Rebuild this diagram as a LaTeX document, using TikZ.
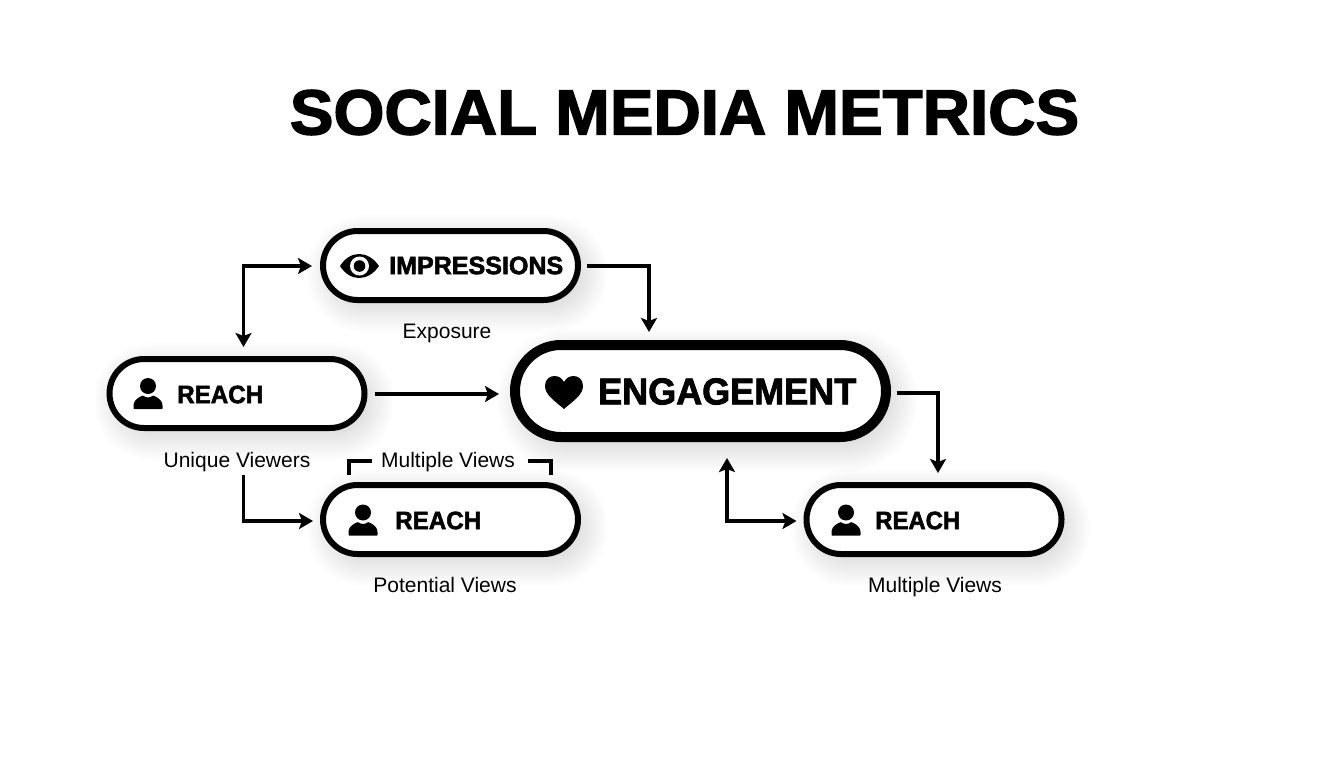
\documentclass[tikz,border=0pt]{standalone}
\usepackage{fontspec}
\usepackage{graphicx}
\usetikzlibrary{arrows.meta,calc}
\setmainfont{Liberation Sans}
\newfontfamily\heavyfont[FakeBold=2.2]{Liberation Sans Bold}
\newcommand{\heavy}[3]{\resizebox{#1pt}{#2pt}{\heavyfont #3}}
\newcommand{\softpill}[5]{%
  \foreach \g in {22,20,...,-10}{%
    \fill[black,opacity=0.0075,rounded corners=#5pt+\g pt]
      (#1-\g,#2-\g) rectangle (#3+\g,#4+\g);}}
\tikzset{
  x=1pt,y=-1pt,
  pill/.style={draw=black,fill=white,line width=6pt,minimum width=255pt,minimum height=69pt,
    rounded corners=34.5pt,outer sep=0pt,inner sep=0pt},
  bigpill/.style={pill,line width=10pt,minimum width=371pt,minimum height=92pt,rounded corners=46pt},
  caption/.style={font=\fontsize{21}{24}\selectfont,text=black,inner sep=0pt,anchor=base},
  tag/.style={inner sep=0pt,anchor=west,text=black},
  link/.style={draw=black,line width=3.4pt,-{Stealth[length=14pt,width=16pt,inset=3pt]}},
  both/.style={draw=black,line width=3.4pt,{Stealth[length=14pt,width=16pt,inset=3pt]}-{Stealth[length=14pt,width=16pt,inset=3pt]}},
  brace/.style={draw=black,line width=3.4pt},
  personicon/.pic={
    \fill[black] (0,0) circle (8);
    \fill[black,rounded corners=0.6pt] (-14.5,23) -- (-14.5,19) .. controls (-14,14) and (-9,11) .. (-5,9.5)
      .. controls (-2,12) and (2,12) .. (5,9.5) .. controls (9,11) and (14,14) .. (14.5,19) -- (14.5,23) -- cycle;
  }
}
\begin{document}
\begin{tikzpicture}
\useasboundingbox (0,0) rectangle (1344,768);
\fill[white] (0,0) rectangle (1344,768);

\node[tag,anchor=center] (title) at (684.5,112.5) {\heavy{789}{44.5}{SOCIAL MEDIA METRICS}};

% soft shadows
\softpill{329}{237}{586}{310}{36}
\softpill{116}{365}{372}{438}{36}
\softpill{329}{491}{586}{564}{36}
\softpill{813}{491}{1069}{564}{36}
\softpill{519}{350}{896}{450}{50}

% pills
\node[pill] (imp) at (450.5,265.5) {};
\node[pill] (reachA) at (237,393.5) {};
\node[pill] (reachB) at (450.5,519.5) {};
\node[pill] (reachC) at (934,519.5) {};
\node[bigpill] (eng) at (700.5,391) {};

% pill labels
\node[tag] (impT) at (389,265.5) {\heavy{174}{17.5}{IMPRESSIONS}};
\node[tag] (reachAT) at (177,394.5) {\heavy{86}{17.5}{REACH}};
\node[tag] (reachBT) at (395,520.5) {\heavy{86}{17.5}{REACH}};
\node[tag] (reachCT) at (875,520.5) {\heavy{85}{17.5}{REACH}};
\node[tag] (engT) at (598,391.5) {\heavy{258}{26}{ENGAGEMENT}};

% icons
\fill[black] (340,266) .. controls (350,250) and (368,250) .. (379,266)
  .. controls (368,282) and (350,282) .. (340,266) -- cycle;
\fill[white] (359.5,266) circle (9.5);
\fill[black] (359.5,266) circle (5.8);
\pic at (148,386) {personicon};
\pic at (363,512.5) {personicon};
\pic at (846,512.5) {personicon};
\fill[black] (564,409) .. controls (555,401) and (545,395) .. (545,386)
  .. controls (545,379) and (550,376) .. (554.5,376) .. controls (559,376) and (562,378.5) .. (564,382)
  .. controls (566,378.5) and (569,376) .. (573.5,376) .. controls (578,376) and (583,379) .. (583,386)
  .. controls (583,395) and (573,401) .. (564,409) -- cycle;

% captions
\node[caption] (expo) at (447,338) {Exposure};
\node[caption] (uniq) at (237,467) {Unique Viewers};
\node[caption] (multiA) at (448,467) {Multiple Views};
\node[caption] (pot) at (445,592) {Potential Views};
\node[caption] (multiB) at (935,592) {Multiple Views};

% connector helper points
\coordinate (impOut) at ($(imp.east)+(9,0.5)$);
\coordinate (engIn) at (649,332);
\coordinate (impIn) at ($(imp.west)+(-11,0.5)$);
\coordinate (reachTop) at (243.5,347);
\coordinate (reachOut) at ($(reachA.east)+(10,0.5)$);
\coordinate (engLeft) at ($(eng.west)+(-16,3)$);
\coordinate (uniqOut) at (243.5,475);
\coordinate (reachBIn) at ($(reachB.west)+(-10,1.5)$);
\coordinate (engOut) at ($(eng.east)+(11,2)$);
\coordinate (reachCTop) at (938,473);
\coordinate (engBelow) at (727,458);
\coordinate (reachCIn) at ($(reachC.west)+(-10,1.5)$);

% connectors
\draw[link] (impOut) -| (engIn);
\draw[both] (impIn) -| (reachTop);
\draw[link] (reachOut) -- (engLeft);
\draw[link] (uniqOut) |- (reachBIn);
\draw[link] (engOut) -| (reachCTop);
\draw[both] (engBelow) |- (reachCIn);

% bracket around the caption
\coordinate (brA) at (349,475);
\coordinate (brB) at (372,461);
\coordinate (brC) at (528,461);
\coordinate (brD) at (551,475);
\draw[brace] (brA) |- (brB);
\draw[brace] (brC) -| (brD);
\end{tikzpicture}
\end{document}
